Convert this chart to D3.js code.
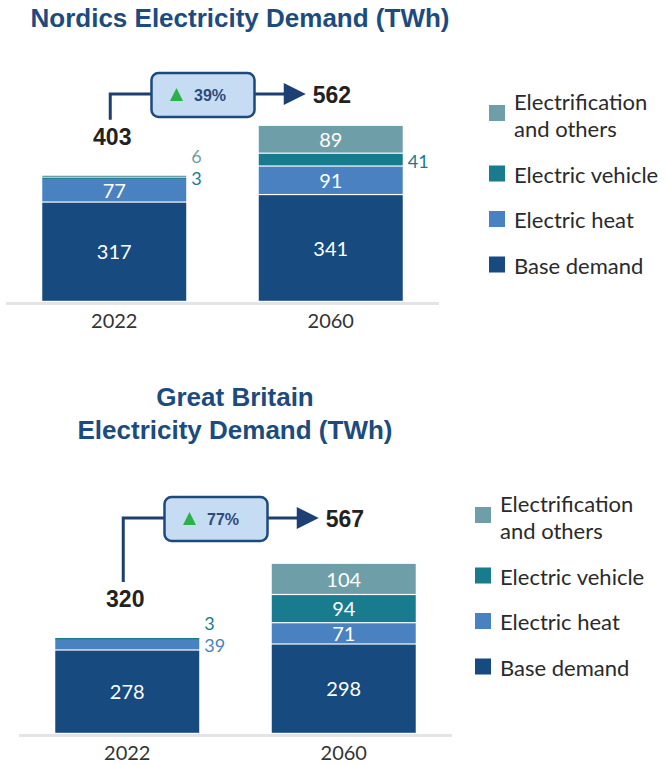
<!DOCTYPE html>
<meta charset="utf-8">
<style>
  body { margin: 0; background: #fff; }
  .title { font-family: "Liberation Sans", Arial, sans-serif; font-weight: bold; font-size: 26px; fill: #1b4b7f; }
  .num { font-family: Lato, sans-serif; font-size: 20px; }
  .side { font-family: Lato, sans-serif; font-size: 18px; }
  .total { font-family: "Liberation Sans", Arial, sans-serif; font-weight: bold; font-size: 23px; fill: #222; }
  .pct { font-family: "Liberation Sans", Arial, sans-serif; font-weight: bold; font-size: 16px; fill: #2c4a7c; }
  .legend { font-family: Lato, sans-serif; font-size: 22px; fill: #2a2a2a; }
  .year { font-family: Lato, sans-serif; font-size: 20px; fill: #333; }
</style>
<body>
<script src="https://d3js.org/d3.v7.min.js"></script>
<div id="chart"></div>
<script>

// categories, stacked bottom -> top
const categories = ["Base demand", "Electric heat", "Electric vehicle", "Electrification and others"];
const colors = ["#174a7e", "#4a81c0", "#187b8e", "#6e9fa8"];
const years = ["2022", "2060"];

// Nordics (TWh)
const nordics2022 = [317, 77, 3, 6];
const nordics2060 = [341, 91, 41, 89];
const nordicsTotals = [403, 562];
const nordicsGrowth = "39%";

// Great Britain (TWh)
const gb2022 = [278, 39, 3, 0];
const gb2060 = [298, 71, 94, 104];
const gbTotals = [320, 567];
const gbGrowth = "77%";

const legendLabels = ["Electrification\nand others", "Electric vehicle", "Electric heat", "Base demand"];

const svg = d3.select("#chart").append("svg")
  .attr("width", 665)
  .attr("height", 765);

// layout of each panel
const panels = [
  { title: ["Nordics Electricity Demand (TWh)"], titleX: 240, titleY: [27],
    series: [nordics2022, nordics2060], totals: nordicsTotals, growth: nordicsGrowth,
    xRange: [6, 439], base: 302, yMax: 600, yPx: 188, calloutY: 94,
    legendX: 489, legendY: 105 },
  { title: ["Great Britain", "Electricity Demand (TWh)"], titleX: 235, titleY: [406, 439],
    series: [gb2022, gb2060], totals: gbTotals, growth: gbGrowth,
    xRange: [19, 452], base: 734, yMax: 600, yPx: 180, calloutY: 518,
    legendX: 475, legendY: 507 }
];

panels.forEach(drawPanel);

function drawPanel(p) {
  const g = svg.append("g");

  // title
  p.title.forEach((t, i) => {
    g.append("text").attr("class", "title")
      .attr("x", p.titleX).attr("y", p.titleY[i])
      .attr("text-anchor", "middle")
      .text(t);
  });

  const x = d3.scaleBand().domain(years).range(p.xRange)
    .paddingInner(0.335).paddingOuter(0.1675);
  const y = d3.scaleLinear().domain([0, p.yMax]).range([p.base, p.base - p.yPx]);

  // baseline
  g.append("line")
    .attr("x1", p.xRange[0]).attr("x2", p.xRange[1])
    .attr("y1", p.base + 1.5).attr("y2", p.base + 1.5)
    .attr("stroke", "#e4e4e7").attr("stroke-width", 3);

  // year labels
  g.selectAll(".year").data(years).join("text")
    .attr("class", "year")
    .attr("x", d => x(d) + x.bandwidth() / 2)
    .attr("y", p.base + 26)
    .attr("text-anchor", "middle")
    .text(d => d);

  // stacked bars
  years.forEach((yr, yi) => {
    const vals = p.series[yi];
    let cum = 0;
    const segs = vals.map((v, i) => {
      const s = { v: v, i: i, y0: cum, y1: cum + v };
      cum += v;
      return s;
    }).filter(s => s.v > 0);

    // white gap between segments, keep thin ones visible
    g.selectAll(null).data(segs).join("rect")
      .attr("x", x(yr))
      .attr("width", x.bandwidth())
      .attr("y", s => y(s.y1))
      .attr("height", s => Math.max(y(s.y0) - y(s.y1) - 1.2, 1.3))
      .attr("fill", s => colors[s.i]);

    // labels inside big segments, outside for thin ones
    let prevOut = Infinity;
    segs.forEach(s => {
      const h = y(s.y0) - y(s.y1);
      const cy = (y(s.y0) + y(s.y1)) / 2;
      if (h >= 18) {
        g.append("text").attr("class", "num")
          .attr("x", x(yr) + x.bandwidth() / 2)
          .attr("y", cy).attr("dy", "0.35em")
          .attr("text-anchor", "middle")
          .attr("fill", "#fff")
          .text(s.v);
      } else {
        const ly = Math.min(cy + 1, prevOut - 22);
        prevOut = ly;
        g.append("text").attr("class", "side")
          .attr("x", x(yr) + x.bandwidth() + 5)
          .attr("y", ly).attr("dy", "0.35em")
          .attr("fill", colors[s.i])
          .text(s.v);
      }
    });
  });

  // growth callout
  const c0 = x(years[0]) + x.bandwidth() / 2 - 4;
  const c1 = x(years[1]) + x.bandwidth() / 2;
  const tip = c1 - 25;
  const cy = p.calloutY;
  const lab0 = y(p.totals[0]) - 31;

  g.append("text").attr("class", "total")
    .attr("x", c0 + 2).attr("y", lab0)
    .attr("text-anchor", "middle")
    .text(p.totals[0]);

  g.append("path")
    .attr("d", `M${c0},${lab0 - 25} V${cy} H${tip - 20}`)
    .attr("fill", "none")
    .attr("stroke", "#1d3f73")
    .attr("stroke-width", 3);

  g.append("path")
    .attr("d", `M${tip},${cy} L${tip - 22},${cy - 11} L${tip - 22},${cy + 11} Z`)
    .attr("fill", "#1d3f73");

  g.append("text").attr("class", "total")
    .attr("x", tip + 7).attr("y", cy + 9)
    .text(p.totals[1]);

  const bx = (c0 + tip) / 2 - 5;
  g.append("rect")
    .attr("x", bx - 51.5).attr("y", cy - 21)
    .attr("width", 103).attr("height", 44)
    .attr("rx", 7)
    .attr("fill", "#c6dcf2")
    .attr("stroke", "#1d4a7e")
    .attr("stroke-width", 2.5);

  g.append("path")
    .attr("d", `M${bx - 33},${cy + 7} L${bx - 26.5},${cy - 6} L${bx - 20},${cy + 7} Z`)
    .attr("fill", "#2bb04a");

  g.append("text").attr("class", "pct")
    .attr("x", bx - 9).attr("y", cy + 7)
    .text(p.growth);

  // legend
  let ly = p.legendY;
  legendLabels.forEach((lab, i) => {
    const ci = categories.length - 1 - i;
    const lines = lab.split("\n");
    g.append("rect")
      .attr("x", p.legendX).attr("y", ly)
      .attr("width", 16).attr("height", 16)
      .attr("fill", colors[ci]);
    lines.forEach((t, k) => {
      g.append("text").attr("class", "legend")
        .attr("x", p.legendX + 25)
        .attr("y", lines.length > 1 ? ly + 5 + k * 27 : ly + 17)
        .text(t);
    });
    ly += lines.length > 1 ? 60.5 : 45.5;
  });
}

</script>
</body>
